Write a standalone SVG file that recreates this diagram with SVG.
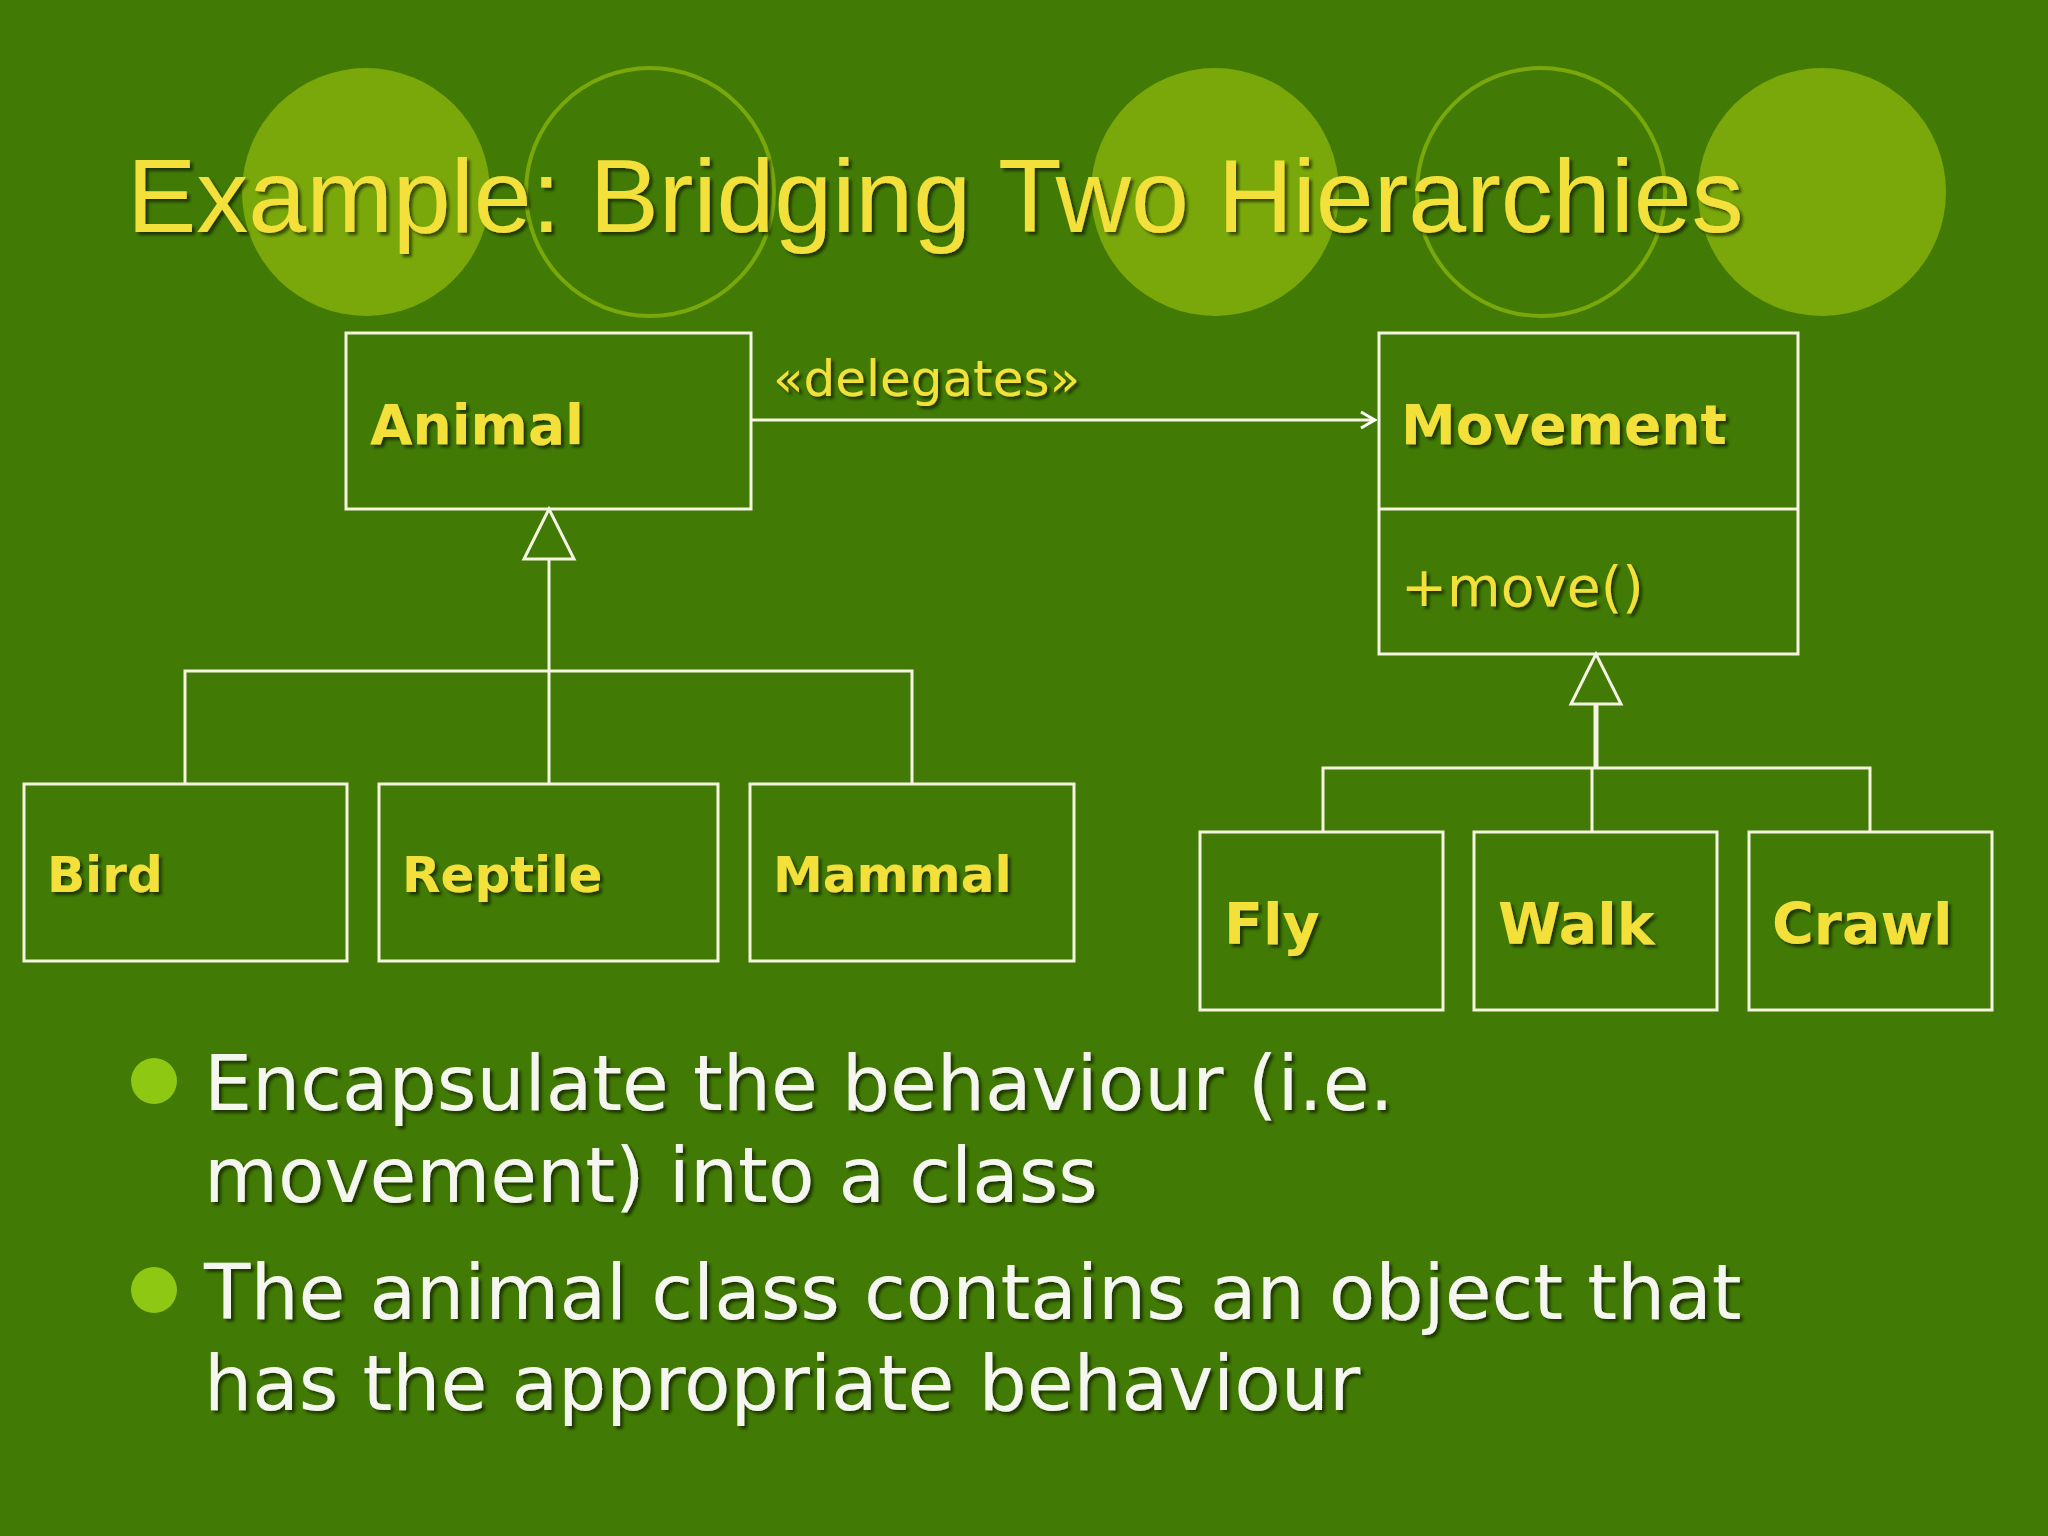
<svg xmlns="http://www.w3.org/2000/svg" width="2048" height="1536" viewBox="0 0 2048 1536">
<defs>
<filter id="sh" x="-5%" y="-20%" width="110%" height="140%"><feDropShadow dx="3" dy="3" stdDeviation="1.5" flood-color="#000" flood-opacity="0.55"/></filter>
<marker id="open" markerWidth="20" markerHeight="20" refX="18" refY="10" orient="auto" markerUnits="userSpaceOnUse"><path d="M4,2 L18,10 L4,18" fill="none" stroke="#fff" stroke-width="3"/></marker>
</defs>
<style>
.box{fill:none;stroke:#f4f4e0;stroke-width:3}
.ln{fill:none;stroke:#f4f4e0;stroke-width:3}
.lbl{font-family:"DejaVu Sans",Verdana,sans-serif;font-weight:bold;font-size:55px;fill:#f4e03a;filter:url(#sh)}
.txt{font-family:"DejaVu Sans",Verdana,sans-serif;font-size:76px;fill:#f6f6f0;filter:url(#sh)}
</style>
<rect width="2048" height="1536" fill="#417a04"/>
<g id="decor">
<circle cx="366" cy="192" r="124" fill="#7aa80a"/>
<circle cx="650" cy="192" r="124" fill="none" stroke="#7aa80a" stroke-width="4"/>
<circle cx="1215" cy="192" r="124" fill="#7aa80a"/>
<circle cx="1541" cy="192" r="124" fill="none" stroke="#7aa80a" stroke-width="4"/>
<circle cx="1822" cy="192" r="124" fill="#7aa80a"/>
</g>
<text x="127" y="232" font-family="'Liberation Sans',Arial,sans-serif" font-size="104" fill="#f4e03a" filter="url(#sh)">Example: Bridging Two Hierarchies</text>
<g id="connectors">
<line class="ln" x1="751" y1="420" x2="1375" y2="420" marker-end="url(#open)"/>
<text x="773" y="396" font-family="'DejaVu Sans',Verdana,sans-serif" font-size="50" fill="#f4e03a" filter="url(#sh)">«delegates»</text>
<polygon points="549,509 524,559 574,559" class="ln"/>
<polyline class="ln" points="549,559 549,671"/>
<polyline class="ln" points="185,784 185,671 912,671 912,784"/>
<line class="ln" x1="549" y1="671" x2="549" y2="784"/>
<polygon points="1596,654 1571,704 1621,704" class="ln"/>
<polyline class="ln" points="1596,704 1596,768" style="stroke-width:5"/>
<polyline class="ln" points="1323,832 1323,768 1870,768 1870,832"/>
<line class="ln" x1="1592" y1="768" x2="1592" y2="832"/>
</g>
<g id="animal"><rect class="box" x="346" y="333" width="405" height="176"/><text class="lbl" x="370" y="444">Animal</text></g>
<g id="movement"><rect class="box" x="1379" y="333" width="419" height="321"/><line class="ln" x1="1379" y1="509" x2="1798" y2="509"/><text class="lbl" x="1401" y="444">Movement</text><text x="1401" y="606" font-family="'DejaVu Sans',Verdana,sans-serif" font-size="55" fill="#f4e03a" filter="url(#sh)">+move()</text></g>
<g id="bird"><rect class="box" x="24" y="784" width="323" height="177"/><text class="lbl" x="47" y="892" font-size="50" style="font-size:50px">Bird</text></g>
<g id="reptile"><rect class="box" x="379" y="784" width="339" height="177"/><text class="lbl" x="402" y="892" style="font-size:50px">Reptile</text></g>
<g id="mammal"><rect class="box" x="750" y="784" width="324" height="177"/><text class="lbl" x="773" y="892" style="font-size:50px">Mammal</text></g>
<g id="fly"><rect class="box" x="1200" y="832" width="243" height="178"/><text class="lbl" x="1224" y="944" style="font-size:57px">Fly</text></g>
<g id="walk"><rect class="box" x="1474" y="832" width="243" height="178"/><text class="lbl" x="1498" y="944" style="font-size:57px">Walk</text></g>
<g id="crawl"><rect class="box" x="1749" y="832" width="243" height="178"/><text class="lbl" x="1772" y="944" style="font-size:57px">Crawl</text></g>
<g id="bullets">
<circle cx="154" cy="1081" r="23" fill="#8ec812"/>
<circle cx="154" cy="1290" r="23" fill="#8ec812"/>
<text class="txt" x="204" y="1110">Encapsulate the behaviour (i.e.</text>
<text class="txt" x="204" y="1202">movement) into a class</text>
<text class="txt" x="204" y="1319">The animal class contains an object that</text>
<text class="txt" x="204" y="1410">has the appropriate behaviour</text>
</g>
</svg>
